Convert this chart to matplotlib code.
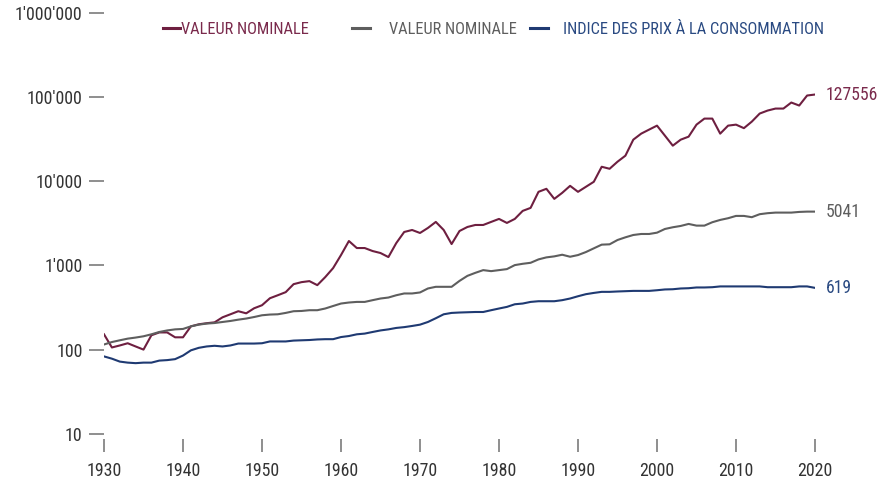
import matplotlib
matplotlib.use("Agg")
import matplotlib.pyplot as plt
from matplotlib.lines import Line2D
from matplotlib import font_manager as fm

years = list(range(1930, 2021))

valeur_nominale = [
    152, 106, 112, 119, 109, 100, 148, 160, 160, 140,
    140, 189, 200, 206, 211, 242, 263, 286, 270, 310,
    337, 408, 443, 482, 600, 634, 652, 584, 727, 931,
    1331, 1955, 1613, 1613, 1486, 1407, 1260, 1850, 2504, 2644,
    2436, 2795, 3297, 2644, 1799, 2572, 2871, 3033, 3033, 3297,
    3580, 3208, 3580, 4460, 4842, 7516, 8166, 6199, 7311, 8855,
    7516, 8624, 9893, 14930, 14130, 17140, 20220, 31350, 36980, 41290,
    46040, 35000, 26600, 31350, 34040, 47310, 55820, 55820, 36980, 46040,
    47310, 42950, 51370, 64090, 69560, 73450, 73450, 86660, 79800, 105000,
    107900,
]

valeur_nominale_2 = [
    115, 123, 129, 135, 139, 144, 152, 162, 169, 174,
    176, 189, 198, 204, 207, 213, 219, 227, 234, 244,
    256, 261, 263, 273, 286, 288, 294, 294, 308, 330,
    353, 363, 369, 369, 387, 405, 416, 443, 465, 465,
    478, 533, 558, 558, 558, 656, 753, 818, 881, 857,
    881, 906, 1011, 1048, 1077, 1182, 1249, 1284, 1343, 1271,
    1331, 1445, 1600, 1770, 1786, 2010, 2163, 2306, 2370, 2370,
    2457, 2718, 2849, 2953, 3120, 2980, 2980, 3269, 3483, 3649,
    3887, 3887, 3753, 4074, 4188, 4256, 4256, 4256, 4335, 4372,
    4372,
]

ipc = [
    83, 78, 72, 70, 69, 70, 70, 74, 75, 77,
    85, 98, 105, 109, 111, 109, 112, 118, 118, 118,
    119, 125, 125, 125, 128, 129, 130, 132, 133, 133,
    141, 145, 152, 155, 162, 169, 174, 181, 185, 191,
    198, 213, 236, 263, 273, 276, 278, 280, 280, 294,
    308, 322, 346, 353, 369, 376, 376, 376, 387, 405,
    431, 456, 472, 486, 486, 491, 495, 499, 499, 499,
    508, 519, 522, 533, 537, 548, 548, 552, 564, 564,
    564, 564, 564, 564, 552, 552, 552, 552, 564, 564,
    542,
]

series_labels = ["VALEUR NOMINALE", "VALEUR NOMINALE", "INDICE DES PRIX À LA CONSOMMATION"]
end_labels = ["127556", "5041", "619"]
ytick_values = [10, 100, 1000, 10000, 100000, 1000000]
ytick_labels = ["10", "100", "1'000", "10'000", "100'000", "1'000'000"]
xtick_values = list(range(1930, 2021, 10))

colors = ["#6e1f40", "#5e5e5e", "#1f3a72"]
text_colors = ["#7a2a4c", "#5e5e5e", "#2a4a82"]

# ---- choose the narrowest available sans font ----
def find(fam, stretch):
    try:
        return fm.findfont(fm.FontProperties(family=fam, stretch=stretch),
                           fallback_to_default=False)
    except Exception:
        return None

chosen = ("Liberation Sans", "normal")
for fam, st, must in [("Liberation Sans Narrow", "normal", None),
                      ("Roboto Condensed", "normal", None),
                      ("Noto Sans", "condensed", "ondensed"),
                      ("DejaVu Sans", "condensed", "ondensed"),
                      ("Open Sans", "condensed", "ondensed"),
                      ("Roboto", "condensed", "ondensed")]:
    p = find(fam, st)
    if p and (must is None or must in p):
        chosen = (fam, st)
        break
plt.rcParams['font.family'] = [chosen[0], 'DejaVu Sans']
plt.rcParams['font.stretch'] = chosen[1]

W, H = 891, 482
fig = plt.figure(figsize=(W / 100, H / 100), dpi=100)
renderer = fig.canvas.get_renderer()

def fit(s, target_px, max_pt):
    t = fig.text(0, 0, s, fontsize=10)
    w = t.get_window_extent(renderer).width
    t.remove()
    return min(max_pt, 10 * target_px / w)

fs_tick = min(fit("1930", 35, 14), fit("1'000'000", 70, 14))
fs_leg = fit("INDICE DES PRIX À LA CONSOMMATION", 262, 13.5)
fs_end = fit("127556", 52, 15.5)

ax = fig.add_axes([104 / W, 48.3 / H, (815 - 104) / W, 420.5 / H])

for vals, c in zip([valeur_nominale, valeur_nominale_2, ipc], colors):
    ax.plot(years, vals, color=c, lw=1.5)

ax.set_yscale('log')
ax.set_xlim(1930, 2020)
ax.set_ylim(10, 1000000)
ax.set_yticks(ytick_values)
ax.set_yticklabels(ytick_labels)
ax.yaxis.set_minor_locator(matplotlib.ticker.NullLocator())
ax.set_xticks(xtick_values)
ax.set_xticklabels([str(x) for x in xtick_values])

for s in ax.spines.values():
    s.set_visible(False)
ax.spines['bottom'].set_position(('outward', 4))

ax.tick_params(axis='y', direction='out', length=10.5, width=1.1, color='#707070',
               pad=5, labelsize=fs_tick, labelcolor='#333333')
ax.tick_params(axis='x', direction='out', length=9.5, width=1.1, color='#707070',
               pad=7, labelsize=fs_tick, labelcolor='#333333')

for vals, c, lab in zip([valeur_nominale, valeur_nominale_2, ipc], text_colors, end_labels):
    ax.annotate(lab, xy=(years[-1], vals[-1]), xytext=(8, 0), textcoords='offset points',
                va='center', ha='left', fontsize=fs_end, color=c, annotation_clip=False)

# legend, built by hand
leg_items = [(163, 180, 181), (352, 370, 389), (530, 548, 563)]
ly = (H - 28) / H
tb = (H - 34.5) / H
for (x0, x1, xt), c, tc, lab in zip(leg_items, colors, text_colors, series_labels):
    fig.add_artist(Line2D([x0 / W, x1 / W], [ly, ly], transform=fig.transFigure,
                          color=c, lw=2.2))
    fig.text(xt / W, tb, lab, color=tc, fontsize=fs_leg, va='baseline', ha='left')

fig.savefig("out.png", dpi=100)
